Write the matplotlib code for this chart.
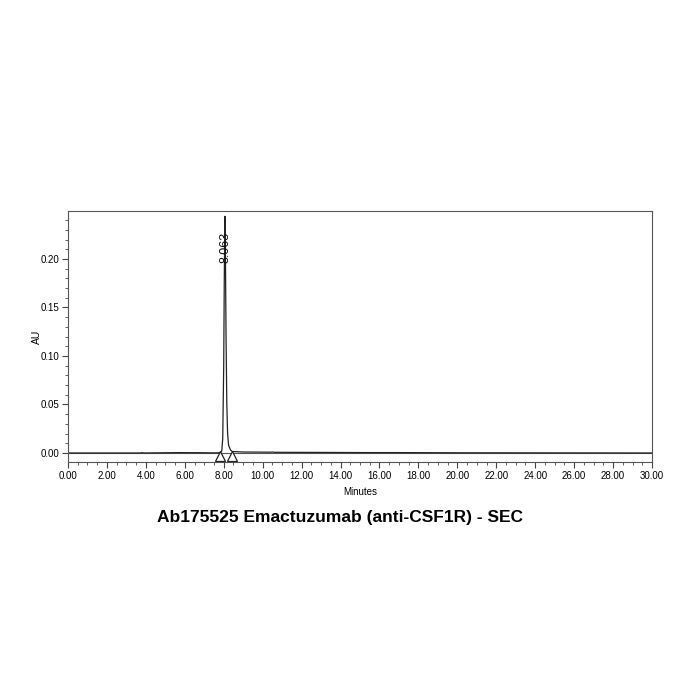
import matplotlib
matplotlib.use('Agg')
import matplotlib.pyplot as plt
from matplotlib.ticker import MultipleLocator, FormatStrFormatter

plt.rcParams['font.family'] = ['Liberation Sans', 'DejaVu Sans']

# chromatogram trace (minutes, AU)
time_min = [0.00, 3.70, 3.80, 3.90, 5.40, 5.80, 6.20, 6.70, 7.50, 7.80, 7.90,
            7.95, 8.00, 8.03, 8.063, 8.09, 8.12, 8.16, 8.20, 8.25, 8.35, 8.45,
            9.00, 10.40, 10.50, 10.60, 14.00, 15.30, 16.80, 20.00, 30.00]
absorb_au = [0.0000, 0.0000, 0.0003, 0.0000, 0.0003, 0.0004, 0.0003, 0.0003,
             0.0001, 0.0002, 0.0020, 0.0150, 0.0900, 0.1800, 0.2440, 0.2000,
             0.1200, 0.0500, 0.0200, 0.0080, 0.0030, 0.0015, 0.0010, 0.0008,
             0.0010, 0.0007, 0.0005, 0.0004, 0.0004, 0.0002, 0.0000]

peak_rt = 8.063
peak_label = '8.063'
peak_label_y = 0.212
# integration start/end markers
marker_t = [7.83, 8.45]
marker_y = [-0.003, -0.003]

x_major = 2.0
x_minor = 0.5
y_major = 0.05
y_minor = 0.01

fig = plt.figure(figsize=(7, 7), dpi=100)
ax = fig.add_axes([0.0971, 0.34, 0.8343, 0.3586])

ax.axhline(0, color='#555555', linewidth=0.8)
ax.plot(time_min, absorb_au, color='#222222', linewidth=0.9)
ax.plot(marker_t, marker_y, linestyle='none', marker='^', markersize=7.5,
        markerfacecolor='white', markeredgecolor='#222222', markeredgewidth=0.9,
        clip_on=False, zorder=5)
ax.text(peak_rt + 0.02, peak_label_y, peak_label, rotation=90, ha='center',
        va='center', fontsize=9, color='#111111')

ax.set_xlim(0, 30)
ax.set_ylim(-0.0093, 0.2495)
ax.xaxis.set_major_locator(MultipleLocator(x_major))
ax.xaxis.set_minor_locator(MultipleLocator(x_minor))
ax.yaxis.set_major_locator(MultipleLocator(y_major))
ax.yaxis.set_minor_locator(MultipleLocator(y_minor))
ax.xaxis.set_major_formatter(FormatStrFormatter('%.2f'))
ax.yaxis.set_major_formatter(FormatStrFormatter('%.2f'))
ax.tick_params(which='major', length=4.5, width=0.8, labelsize=7,
               color='#444444', pad=2)
ax.tick_params(which='minor', length=2.2, width=0.6, color='#444444')
for sp in ax.spines.values():
    sp.set_color('#555555')
    sp.set_linewidth(0.8)

ax.set_xlabel('Minutes', fontsize=7, labelpad=4)
ax.set_ylabel('AU', fontsize=7.5)
ax.yaxis.set_label_coords(-0.045, 0.5)

fig.text(0.486, 0.261, 'Ab175525 Emactuzumab (anti-CSF1R) - SEC',
         ha='center', va='center', fontsize=12.5, fontweight='bold')

fig.savefig('out.png', dpi=100)
